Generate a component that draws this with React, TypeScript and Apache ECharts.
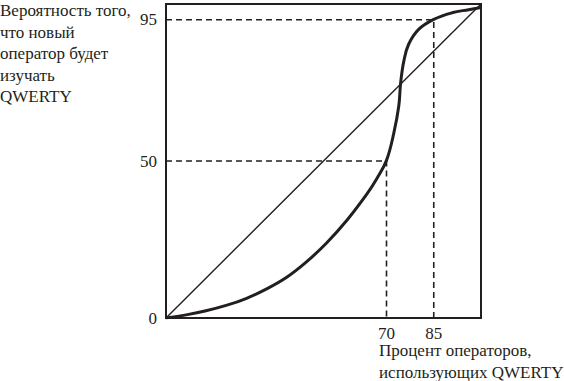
import React, { useEffect, useRef } from "react";
import * as echarts from "echarts";

const curveX = [0, 6.4, 12.7, 19.1, 25.4, 31.8, 38.2, 44.5, 50.9, 57.5, 63.8, 67, 70, 72.3, 73.9, 74.5, 75.5, 77, 80.2, 85, 90.8, 96.1, 100];
const curveY = [0, 1.0, 2.3, 4.0, 6.2, 9.2, 12.9, 17.8, 23.8, 31.2, 39.5, 44.5, 50.2, 58.8, 67.5, 75, 81.8, 87.1, 91.9, 95.1, 97.2, 98.2, 98.9];
const diagonal = [[0, 0], [100, 100]];
const guide95 = [[0, 95], [85, 95], [85, 0]];
const guide50 = [[0, 50], [70, 50], [70, 0]];
const xTickLabels = [70, 85];
const yTickLabels = [0, 50, 95];
const yAxisTitle = "Вероятность того,\nчто новый\nоператор будет\nизучать\nQWERTY";
const xAxisTitle = "Процент операторов,\nиспользующих QWERTY";

const INK = "#231f20";
const FONT = "'Liberation Serif', 'DejaVu Serif', serif";

export default function App() {
  const ref = useRef<HTMLDivElement>(null);
  useEffect(() => {
    if (!ref.current) return;
    const chart = echarts.init(ref.current, null, { renderer: "svg" });
    const curve = curveX.map((x, i) => [x, curveY[i]]);
    chart.setOption({
      animation: false,
      backgroundColor: "#ffffff",
      grid: { left: 166, top: 4, right: 83, bottom: 63, show: true, borderColor: INK, borderWidth: 2 },
      xAxis: {
        type: "value", min: 0, max: 100, interval: 5,
        axisLine: { show: true, lineStyle: { color: INK, width: 2 } },
        axisTick: { show: false },
        splitLine: { show: false },
        axisLabel: {
          color: INK, fontSize: 17, fontFamily: FONT, margin: 7,
          formatter: (v: number) => (xTickLabels.includes(v) ? String(v) : ""),
        },
      },
      yAxis: {
        type: "value", min: 0, max: 100, interval: 5,
        axisLine: { show: true, lineStyle: { color: INK, width: 2 } },
        axisTick: { show: false },
        splitLine: { show: false },
        axisLabel: {
          color: INK, fontSize: 17, fontFamily: FONT, margin: 9,
          formatter: (v: number) => (yTickLabels.includes(v) ? String(v) : ""),
        },
      },
      series: [
        { type: "line", data: guide95, symbol: "none", lineStyle: { color: INK, width: 1.6, type: [6, 4] } },
        { type: "line", data: guide50, symbol: "none", lineStyle: { color: INK, width: 1.6, type: [6, 4] } },
        { type: "line", data: diagonal, symbol: "none", lineStyle: { color: INK, width: 1.4 } },
        { type: "line", data: curve, symbol: "none", smooth: 0.4, lineStyle: { color: INK, width: 3 } },
      ],
      graphic: [
        { type: "text", left: 0, top: 0, style: { text: yAxisTitle, fontSize: 17, fontFamily: FONT, fill: INK, lineHeight: 21.5 } },
        { type: "text", left: 379, top: 340, style: { text: xAxisTitle, fontSize: 17, fontFamily: FONT, fill: INK, lineHeight: 21.5 } },
      ],
    });
    return () => chart.dispose();
  }, []);
  return <div ref={ref} style={{ position: "fixed", left: 0, top: 0, width: 564, height: 381 }} />;
}
